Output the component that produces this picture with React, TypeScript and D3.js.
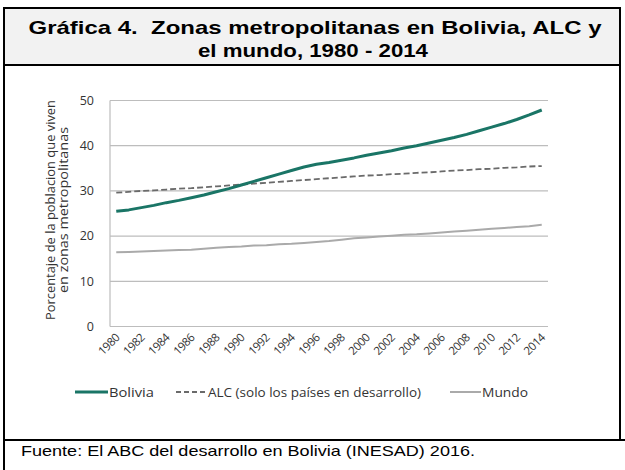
import React from 'react'
import { scalePoint, scaleLinear, line } from 'd3'

const years = [
  1980, 1981, 1982, 1983, 1984, 1985, 1986, 1987, 1988, 1989,
  1990, 1991, 1992, 1993, 1994, 1995, 1996, 1997, 1998, 1999,
  2000, 2001, 2002, 2003, 2004, 2005, 2006, 2007, 2008, 2009,
  2010, 2011, 2012, 2013, 2014,
]
const bolivia = [
  25.5, 25.8, 26.3, 26.8, 27.4, 27.9, 28.5, 29.1, 29.8, 30.5,
  31.3, 32.1, 32.9, 33.7, 34.5, 35.3, 35.9, 36.3, 36.8, 37.3,
  37.9, 38.4, 38.9, 39.5, 40.0, 40.6, 41.2, 41.8, 42.5, 43.3,
  44.1, 44.9, 45.8, 46.8, 47.9,
]
const alc = [
  29.6, 29.8, 30.0, 30.1, 30.3, 30.5, 30.6, 30.8, 31.0, 31.2,
  31.4, 31.6, 31.8, 32.0, 32.2, 32.4, 32.6, 32.8, 33.0, 33.2,
  33.4, 33.5, 33.7, 33.8, 34.0, 34.1, 34.3, 34.5, 34.6, 34.8,
  34.9, 35.1, 35.2, 35.4, 35.5,
]
const mundo = [
  16.4, 16.5, 16.6, 16.7, 16.8, 16.9, 17.0, 17.2, 17.4, 17.6,
  17.7, 17.9, 18.0, 18.2, 18.3, 18.5, 18.7, 18.9, 19.2, 19.5,
  19.7, 19.9, 20.1, 20.3, 20.4, 20.6, 20.8, 21.0, 21.2, 21.4,
  21.6, 21.8, 22.0, 22.2, 22.5,
]
const yTicks = [0, 10, 20, 30, 40, 50]
const xTicks = years.filter(y => y % 2 === 0)

const width = 625
const height = 470
const font = "'Open Sans', sans-serif"
const arial = "'Liberation Sans', Arial, sans-serif"

const App = () => {
  const x = scalePoint<number>().domain(years).range([110, 548]).padding(0.5)
  const y = scaleLinear().domain([0, 50]).range([326.5, 100.5])

  const mk = (vals: number[]) =>
    line<number>()
      .x((_, i) => x(years[i]) as number)
      .y(d => y(d))(vals) as string

  const legend = [
    { label: 'Bolivia', x0: 75, x1: 108, tl: 45, color: '#1a7566', w: 3, dash: undefined },
    { label: 'ALC (solo los países en desarrollo)', x0: 176, x1: 207, tl: 213, color: '#6a6a6a', w: 1.8, dash: '5,3' },
    { label: 'Mundo', x0: 450, x1: 481, tl: 46, color: '#aaa', w: 2, dash: undefined },
  ]

  return (
    <svg width={width} height={height} style={{ position: 'absolute', left: 0, top: 0 }}>
      <rect x={0} y={0} width={width} height={height} fill="#fff" />
      {/* header */}
      <rect x={4} y={8} width={616} height={57} fill="#f2f2f2" />
      <text x={315} y={34} textAnchor="middle" fontFamily={arial} style={{ whiteSpace: 'pre' }}
        fontWeight="bold" fontSize={19} textLength={573} lengthAdjust="spacingAndGlyphs" fill="#000">
        Gráfica 4.  Zonas metropolitanas en Bolivia, ALC y
      </text>
      <text x={313} y={57} textAnchor="middle" fontFamily={arial}
        fontWeight="bold" fontSize={19} textLength={230} lengthAdjust="spacingAndGlyphs" fill="#000">
        el mundo, 1980 - 2014
      </text>
      <g stroke="#000" strokeWidth={2}>
        <line x1={3} x2={621} y1={8} y2={8} />
        <line x1={3} x2={621} y1={65} y2={65} />
        <line x1={3} x2={625} y1={440} y2={440} />
        <line x1={4} x2={4} y1={7} y2={470} />
        <line x1={620} x2={620} y1={7} y2={440} />
      </g>

      {/* grid */}
      {yTicks.map(t => (
        <g key={t}>
          <line x1={110} x2={548} y1={y(t)} y2={y(t)} stroke="#bdbdbd" strokeWidth={1.2} />
          <text x={94} y={y(t)} dy="0.35em" textAnchor="end" fontFamily={font} fontSize={12.5} fill="#333">
            {t}
          </text>
        </g>
      ))}
      <line x1={110} x2={110} y1={y(50)} y2={y(0)} stroke="#bdbdbd" strokeWidth={1.2} />

      {xTicks.map(t => {
        const px = x(t) as number
        return (
          <text key={t} transform={`translate(${px + 4},${y(0) + 12}) rotate(-45)`} textAnchor="end"
            fontFamily={font} fontSize={11.5} fill="#333" letterSpacing={-0.5}>
            {t}
          </text>
        )
      })}

      {/* y title */}
      <text transform="translate(55,210) rotate(-90)" textAnchor="middle" fontFamily={font} fontSize={12.5}
        fill="#333" textLength={220} lengthAdjust="spacingAndGlyphs">
        Porcentaje de la poblacion que viven
      </text>
      <text transform="translate(68,210) rotate(-90)" textAnchor="middle" fontFamily={font} fontSize={12.5}
        fill="#333" textLength={166} lengthAdjust="spacingAndGlyphs">
        en zonas metropolitanas
      </text>

      {/* series */}
      <path d={mk(mundo)} fill="none" stroke="#aaa" strokeWidth={2} />
      <path d={mk(alc)} fill="none" stroke="#6a6a6a" strokeWidth={1.8} strokeDasharray="6,3" />
      <path d={mk(bolivia)} fill="none" stroke="#1a7566" strokeWidth={3} strokeLinejoin="round" />

      {/* legend */}
      {legend.map(l => (
        <g key={l.label}>
          <line x1={l.x0} x2={l.x1} y1={392} y2={392} stroke={l.color} strokeWidth={l.w}
            strokeDasharray={l.dash} />
          <text x={l.x1 + 1} y={392} dy="0.35em" fontFamily={font} fontSize={13} fill="#333"
            textLength={l.tl} lengthAdjust="spacingAndGlyphs">
            {l.label}
          </text>
        </g>
      ))}

      <text x={21} y={456} fontFamily={arial} fontSize={15} fill="#000"
        textLength={454} lengthAdjust="spacingAndGlyphs">
        Fuente: El ABC del desarrollo en Bolivia (INESAD) 2016.
      </text>
    </svg>
  )
}

export default App
